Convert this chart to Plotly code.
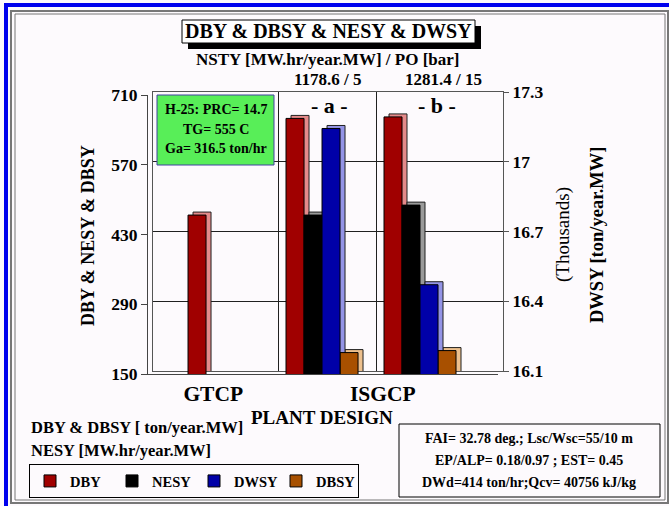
import plotly.graph_objects as go

W, H = 669, 506

# ---------------- data ----------------
categories = ["GTCP", "a", "b"]
dby = [469, 663, 666]            # ton/year.MW
nesy = [None, 469, 489]          # MW.hr/year.MW
dwsy = [None, 17156, 16484]      # ton/year.MW (right axis, thousands)
dbsy = [None, 193, 197]          # ton/year.MW
nsty = [None, 1178.6, 1281.4]    # MW.hr/year.MW
po = [None, 5, 15]               # bar
left_ticks = [150, 290, 430, 570, 710]
right_ticks = [16100, 16400, 16700, 17000, 17300]
series_names = ["DBY", "NESY", "DWSY", "DBSY"]
front_colors = ["#A00000", "#000000", "#0000A8", "#A85000"]
side_colors = ["#E58A8A", "#9A9A9A", "#9494E6", "#EDC08E"]

FONT = "Liberation Serif"


def px(x):
    return x / W


def py(y):
    return 1 - y / H


# front plane and back plane (3-D look)
FRONT_X = [px(148), px(498)]
FRONT_Y = [py(374), py(95)]
BACK_X = [px(153), px(503)]
BACK_Y = [py(371), py(92)]
XR = [-0.776, 2.796]

fig = go.Figure()

vals = [dby, nesy, dwsy, dbsy]
on_right = [False, False, True, False]

# back (side/top faces)
for i, (name, v) in enumerate(zip(series_names, vals)):
    fig.add_trace(go.Bar(
        x=categories, y=v, name=name, showlegend=False, hoverinfo="skip",
        xaxis="x", yaxis="y2" if on_right[i] else "y",
        offsetgroup=str(i),
        marker=dict(color=side_colors[i], line=dict(color="#202020", width=1)),
    ))
# front faces
for i, (name, v) in enumerate(zip(series_names, vals)):
    fig.add_trace(go.Bar(
        x=categories, y=v, name=name, showlegend=True,
        xaxis="x2", yaxis="y4" if on_right[i] else "y3",
        offsetgroup=str(i),
        marker=dict(color=front_colors[i], line=dict(color="#000000", width=1)),
    ))

axis_font = dict(family=FONT, size=17.5, color="black", weight="bold")

fig.update_layout(
    template="none",
    width=W, height=H, autosize=False,
    margin=dict(l=0, r=0, t=0, b=0, pad=0, autoexpand=False),
    paper_bgcolor="#FDFAFD", plot_bgcolor="rgba(0,0,0,0)",
    barmode="group", bargap=0.265, bargroupgap=0,
    font=dict(family=FONT, color="black"),
    xaxis=dict(domain=BACK_X, anchor="y", range=XR, type="category", automargin=False,
               categoryorder="array", categoryarray=categories,
               tickmode="array", tickvals=[0.5, 1.5], showticklabels=False, ticks="",
               showgrid=True, gridcolor="#202020", gridwidth=1,
               showline=True, mirror=True, linecolor="#555555", linewidth=1, zeroline=False),
    yaxis=dict(domain=BACK_Y, anchor="x", range=[150, 710], automargin=False,
               tickmode="array", tickvals=left_ticks, showticklabels=False, ticks="",
               showgrid=True, gridcolor="#202020", gridwidth=1,
               showline=True, linecolor="#555555", linewidth=1, zeroline=False),
    yaxis2=dict(overlaying="y", anchor="x", side="right", range=[16100, 17300], automargin=False,
                tickmode="array", tickvals=right_ticks,
                ticktext=[f"{v/1000:g}" for v in right_ticks],
                ticks="outside", ticklen=5, tickcolor="#555555", tickfont=axis_font,
                showgrid=False, showline=True, linecolor="#555555", linewidth=1, zeroline=False),
    xaxis2=dict(domain=FRONT_X, anchor="y3", range=XR, type="category", automargin=False,
                categoryorder="array", categoryarray=categories,
                tickmode="array", tickvals=[-0.11, 1.62], ticktext=["GTCP", "ISGCP"],
                ticks="", tickfont=dict(family=FONT, size=21.5, color="black", weight="bold"),
                showgrid=False, showline=True, linecolor="#444444", linewidth=1, zeroline=False),
    yaxis3=dict(domain=FRONT_Y, anchor="x2", range=[150, 710], automargin=False,
                tickmode="array", tickvals=left_ticks,
                ticks="outside", ticklen=6, tickcolor="#444444", tickfont=axis_font,
                showgrid=False, showline=True, linecolor="#444444", linewidth=1, zeroline=False),
    yaxis4=dict(overlaying="y3", anchor="x2", range=[16100, 17300], visible=False, automargin=False),
    legend=dict(orientation="h", x=px(29), y=py(464), xanchor="left", yanchor="top",
                bordercolor="black", borderwidth=1, bgcolor="rgba(0,0,0,0)",
                font=dict(family=FONT, size=14.5, color="black", weight="bold"),
                entrywidth=37, itemwidth=30, traceorder="normal"),
)

shapes = []
# outer frame
shapes.append(dict(type="rect", xref="paper", yref="paper", x0=px(4), x1=px(8), y0=py(506), y1=py(3),
                   fillcolor="#0000EE", line=dict(width=0), layer="below"))
shapes.append(dict(type="rect", xref="paper", yref="paper", x0=px(4), x1=px(669), y0=py(7), y1=py(3),
                   fillcolor="#0000EE", line=dict(width=0), layer="below"))
shapes.append(dict(type="rect", xref="paper", yref="paper", x0=px(11), x1=px(668), y0=py(503), y1=py(11),
                   line=dict(color="#777777", width=2), layer="below"))
shapes.append(dict(type="rect", xref="paper", yref="paper", x0=px(15), x1=px(665), y0=py(500), y1=py(14),
                   line=dict(color="#777777", width=1), layer="below"))
# title box with shadow
shapes.append(dict(type="rect", xref="paper", yref="paper", x0=px(188), x1=px(481), y0=py(49), y1=py(26),
                   fillcolor="black", line=dict(width=0)))
shapes.append(dict(type="rect", xref="paper", yref="paper", x0=px(182), x1=px(475), y0=py(43), y1=py(20),
                   fillcolor="white", line=dict(color="black", width=1)))
# green info box
shapes.append(dict(type="rect", xref="paper", yref="paper", x0=px(157), x1=px(274), y0=py(165), y1=py(95),
                   fillcolor="#58EE58", line=dict(color="#4040A0", width=1)))
# bottom-right info box
shapes.append(dict(type="rect", xref="paper", yref="paper", x0=px(399), x1=px(660), y0=py(497), y1=py(424),
                   fillcolor="rgba(0,0,0,0)", line=dict(color="black", width=1)))
fig.update_layout(shapes=shapes)


def ann(text, x, y, size, bold=True, xanchor="center", angle=0, xref="paper", xshift=0):
    fig.add_annotation(text=text, x=x, y=y, xref=xref, yref="paper", showarrow=False,
                       xanchor=xanchor, yanchor="middle", textangle=angle, xshift=xshift,
                       font=dict(family=FONT, size=size, color="black",
                                 weight="bold" if bold else "normal"))


ann("DBY &amp; DBSY &amp; NESY &amp; DWSY", px(328), py(31), 20)
ann("NSTY [MW.hr/year.MW] / PO [bar]", px(327), py(59), 17)
for i, c in enumerate(categories):
    if nsty[i] is not None:
        ann(f"{nsty[i]:g} / {po[i]:g}", c, py(79), 17, xref="x2", xshift=6 if i == 1 else 23)
        ann(f"- {c} -", c, py(105), 22, xref="x2", xshift=7 if i == 1 else 17)

ann("H-25: PRC= 14.7", px(216), py(110), 14)
ann("TG= 555 C", px(216), py(129), 14)
ann("Ga= 316.5 ton/hr", px(216), py(148), 14)

ann("DBY &amp; NESY &amp; DBSY", px(88), py(236), 18, angle=-90)
ann("(Thousands)", px(563), py(235), 19, bold=False, angle=-90)
ann("DWSY [ton/year.MW]", px(597), py(235), 18.5, angle=-90)
ann("PLANT DESIGN", px(322), py(417), 19)

ann("DBY &amp; DBSY [ ton/year.MW]", px(29), py(427), 16.5, xanchor="left")
ann("NESY [MW.hr/year.MW]", px(29), py(450), 16.5, xanchor="left")

ann("FAI= 32.78 deg.; Lsc/Wsc=55/10 m", px(529), py(438), 14)
ann("EP/ALP= 0.18/0.97 ; EST= 0.45", px(529), py(460), 14)
ann("DWd=414 ton/hr;Qcv= 40756 kJ/kg", px(529), py(482), 14)

fig.write_html("out.html", config={"displayModeBar": False},
               post_script="document.body.style.margin='0px';")
